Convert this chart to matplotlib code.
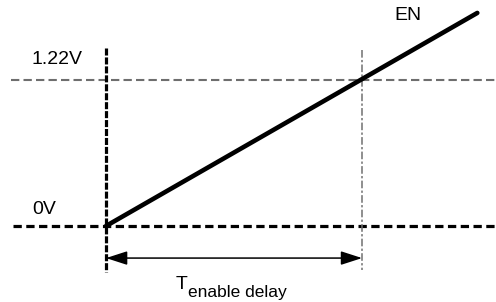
import matplotlib.pyplot as plt

plt.rcParams['font.family'] = ['Liberation Sans', 'DejaVu Sans']

# EN ramp (time in units of the enable delay, volts)
en_t = [0.0, 1.45]
en_v = [0.0, 1.78]

threshold = 1.22
t_delay = 1.0

# reference lines
zero_x = [-0.365, 1.53]
thr_x = [-0.372, 1.53]
start_y = [1.49, -0.385]
delay_y = [1.47, -0.37]
arrow_v = -0.268

fig = plt.figure(figsize=(4.96, 3.02), dpi=100)
ax = fig.add_axes([0, 0, 1, 1])
ax.set_xlim(-0.414, 1.523)
ax.set_ylim(-0.635, 1.888)
ax.axis('off')

# 1.22V threshold (thin grey dashes)
ax.plot(thr_x, [threshold, threshold], color='#6e6e6e', lw=1.5,
        dashes=(4.0, 2.0))
# 0V line (heavy dashes)
ax.plot(zero_x, [0, 0], color='black', lw=2.3, dashes=(2.6, 1.4))
# t=0 marker
ax.plot([0, 0], start_y, color='black', lw=2.3, dashes=(2.2, 0.6))
# t=delay marker
ax.plot([t_delay, t_delay], delay_y, color='#707070', lw=1.1,
        dashes=(5, 1.5, 1.5, 1.5))

# EN ramp
ax.plot(en_t, en_v, color='black', lw=3.3, solid_capstyle='round')

# delay arrow
ax.annotate('', xy=(t_delay, arrow_v), xytext=(0, arrow_v),
            arrowprops=dict(arrowstyle='<|-|>,head_length=1.3,head_width=0.42',
                            mutation_scale=10, color='black', lw=1.1,
                            shrinkA=0, shrinkB=0))

ax.text(-0.29, 1.35, '1.22V', fontsize=14, ha='left', va='baseline')
ax.text(-0.29, 0.1, '0V', fontsize=14, ha='left', va='baseline')
ax.text(1.128, 1.72, 'EN', fontsize=14, ha='left', va='baseline')
ax.text(0.27, -0.53, 'T', fontsize=14, ha='left', va='baseline')
ax.text(0.322, -0.59, 'enable delay', fontsize=12.5, ha='left', va='baseline')

fig.savefig('out.png', dpi=100)
